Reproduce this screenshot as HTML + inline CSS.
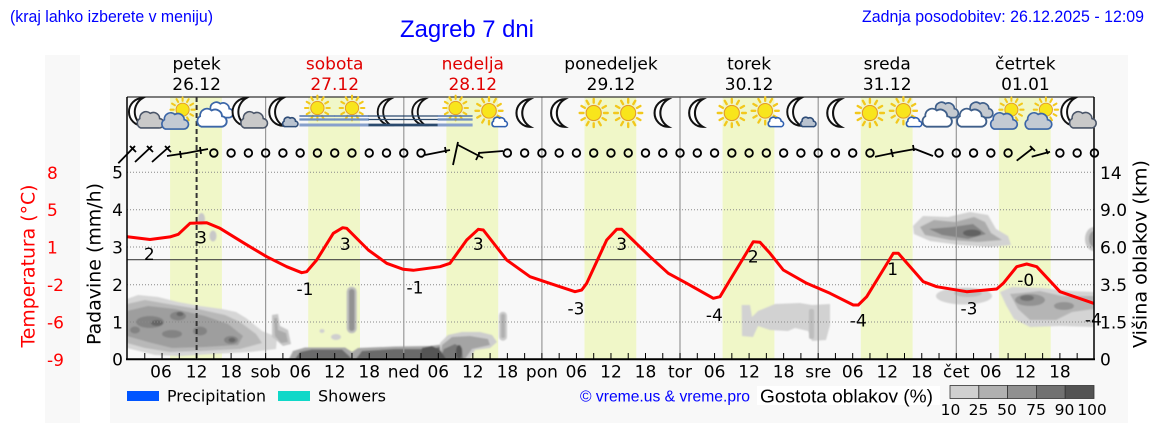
<!DOCTYPE html>
<html><head><meta charset="utf-8"><style>
html,body{margin:0;padding:0;background:#fff;}
svg{display:block;}
</style></head><body>
<svg width="1152" height="443" viewBox="0 0 1152 443" xmlns="http://www.w3.org/2000/svg">
<defs>
<path id="cl" d="M-8,8 A5,5 0 0 1 -9,-1 A6,6 0 0 1 1,-6 A6,6 0 0 1 10,-1 A4.5,4.5 0 0 1 9,8 Z"/>
<path id="mn" d="M4,-12 A12,12 0 0 0 4,12 A13.79,13.79 0 0 1 4,-12 Z"/>
<g id="sn"><path d="M9.5,0H13M8.23,4.75L11.26,6.5M4.75,8.23L6.5,11.26M0,9.5V13M-4.75,8.23L-6.5,11.26M-8.23,4.75L-11.26,6.5M-9.5,0H-13M-8.23,-4.75L-11.26,-6.5M-4.75,-8.23L-6.5,-11.26M0,-9.5V-13M4.75,-8.23L6.5,-11.26M8.23,-4.75L11.26,-6.5" stroke="#f2c81c" stroke-width="2.2" stroke-linecap="round" fill="none"/><circle r="7" fill="#f8e51c" stroke="#e39a2a" stroke-width="1"/></g>
<g id="moonCloud" transform="scale(1.1)"><use href="#mn" transform="translate(-6,-1) scale(1.05)" fill="#fff" stroke="#111" stroke-width="1.7"/><use href="#cl" transform="translate(4,6) scale(0.95)" fill="#c9c9c9" stroke="#4a5568" stroke-width="1.5"/></g>
<g id="moonSmall" transform="scale(1.1)"><use href="#mn" transform="translate(-4,-1) scale(1.05)" fill="#fff" stroke="#111" stroke-width="1.7"/><use href="#cl" transform="translate(6,8) scale(0.55)" fill="#b9c3d0" stroke="#2f4d78" stroke-width="2.6"/></g>
<g id="moon" transform="scale(1.1)"><use href="#mn" transform="translate(1,0) scale(1.05)" fill="#fff" stroke="#111" stroke-width="1.8"/></g>
<g id="sun" transform="scale(1.08)"><use href="#sn"/></g>
<g id="sunCloud" transform="scale(1.1)"><use href="#sn" transform="translate(3,-3) scale(0.85)"/><use href="#cl" transform="translate(-5,7) scale(0.95)" fill="#c3cad3" stroke="#3b66a8" stroke-width="1.6"/></g>
<g id="sunSmall" transform="scale(1.1)"><use href="#sn" transform="translate(-1,-2) scale(0.95)"/><use href="#cl" transform="translate(8,8) scale(0.55)" fill="#fff" stroke="#2f5fb0" stroke-width="2.6"/></g>
<g id="cloudsW" transform="scale(1.1)"><use href="#cl" transform="translate(5,-3) scale(0.9)" fill="#fff" stroke="#3b66a8" stroke-width="1.7"/><use href="#cl" transform="translate(-3,4) scale(1.05)" fill="#fff" stroke="#3b66a8" stroke-width="1.6"/></g>
<g id="cloudsG" transform="scale(1.1)"><use href="#cl" transform="translate(5,-3) scale(0.9)" fill="#c5cad0" stroke="#3f5f8a" stroke-width="1.7"/><use href="#cl" transform="translate(-3,4) scale(1.05)" fill="#fff" stroke="#3f5f8a" stroke-width="1.6"/></g>
<g id="sunFog"><use href="#sn" transform="translate(0,-5) scale(0.95)"/><path d="M-18,3H17" stroke="#4f73ac" stroke-width="1.6"/><path d="M-18,6.5H17" stroke="#6f8fc0" stroke-width="2.2"/><path d="M-18,12H17" stroke="#87a0cc" stroke-width="3"/></g>
<g id="moonFog"><use href="#mn" transform="translate(0,-1) scale(1.1)" fill="none" stroke="#111" stroke-width="1.7"/><path d="M-18,3H17" stroke="#2b4a6e" stroke-width="1.3"/><path d="M-18,6.5H17" stroke="#2b4a6e" stroke-width="1.3"/><path d="M-18,12H17" stroke="#2b4a6e" stroke-width="2.8"/></g>
<clipPath id="pc"><rect x="127" y="97" width="967" height="262"/></clipPath>
<filter id="bl" x="-10%" y="-10%" width="120%" height="120%"><feGaussianBlur stdDeviation="0.9"/></filter>
</defs>

<!-- panels -->
<rect x="45" y="55" width="35" height="368" fill="#f8f8f8"/>
<rect x="110" y="55" width="1018" height="368" fill="#f8f8f8"/>

<!-- daylight bands -->
<g fill="#f0f7c8">
<rect x="170.1" y="97" width="51.8" height="262"/>
<rect x="308.2" y="97" width="51.8" height="262"/>
<rect x="446.4" y="97" width="51.8" height="262"/>
<rect x="584.5" y="97" width="51.8" height="262"/>
<rect x="722.6" y="97" width="51.8" height="262"/>
<rect x="860.8" y="97" width="51.8" height="262"/>
<rect x="998.9" y="97" width="51.8" height="262"/>
</g>

<!-- cloud density blobs -->
<g clip-path="url(#pc)"><g filter="url(#bl)">
<path fill="#d6d6d6" d="M127,299 L138,295 L158,297 L178,302 L200,306 L222,309 L236,312 L246,318 L262,331 L277,337 L276,349 L250,352 L212,354 L180,356 L155,355 L135,350 L127,348 Z"/>
<path fill="#b8b8b8" d="M127,304 L145,300 L168,304 L198,309 L225,315 L240,322 L256,334 L262,343 L240,349 L200,351 L170,352 L145,348 L127,343 Z"/>
<path fill="#9e9e9e" d="M127,311 L148,306 L175,309 L205,316 L228,324 L243,336 L238,345 L205,347 L172,348 L148,342 L127,336 Z"/>
<g fill="#838383"><ellipse cx="150" cy="322" rx="14" ry="6"/><ellipse cx="178" cy="316" rx="8" ry="4.5"/><ellipse cx="200" cy="331" rx="7" ry="4.5"/><ellipse cx="231" cy="340" rx="7" ry="4"/><ellipse cx="172" cy="334" rx="10" ry="4"/><ellipse cx="135" cy="330" rx="5" ry="3.5"/></g>
<g fill="#666"><ellipse cx="157" cy="323" rx="6" ry="3"/><ellipse cx="180" cy="314" rx="3.5" ry="2.2"/><ellipse cx="232" cy="340" rx="3.5" ry="2.2"/></g>
<ellipse cx="201.5" cy="219" rx="3.5" ry="6" fill="#c8c8c8"/>
<ellipse cx="213" cy="236" rx="3.5" ry="5.5" fill="#c8c8c8"/>
<path fill="#c6c6c6" d="M272,315 L278,314 L280,326 L288,330 L291,344 L283,346 L276,340 L272,337 Z"/>
<path fill="#ababab" d="M274,318 L277,318 L278,330 L286,333 L288,342 L281,343 L275,336 Z"/>
<rect x="346.7" y="286.7" width="10" height="46.6" rx="5" fill="#bdbdbd"/>
<rect x="349" y="289" width="5.5" height="42" rx="2.75" fill="#929292"/>
<ellipse cx="322" cy="331" rx="2.5" ry="2" fill="#d0d0d0"/>
<ellipse cx="336" cy="337" rx="5" ry="3" fill="#cfcfcf"/>
<path fill="#a5a5a5" d="M289,359 L293,351 L305,347.5 L345,347.5 L352,352 L358,348 L395,346.5 L430,346 L445,344 L446,359 Z"/>
<path fill="#6a6a6a" d="M295,359 L300,352 L312,349.5 L342,349.5 L348,355 L352,359 Z M356,359 L362,351 L395,349 L428,349 L440,347 L442,359 Z"/>
<path fill="#cdcdcd" d="M440,359 L440,343 L448,335 L462,332 L480,332 L492,335 L497,342 L490,348 L475,350 L470,359 Z"/>
<path fill="#a4a4a4" d="M440,359 L442,345 L452,337 L470,336 L488,339 L490,345 L472,349 L465,359 Z"/>
<path fill="#777" d="M440,359 L444,349 L455,344 L462,348 L463,359 Z"/>
<path fill="#555" d="M420,359 L422,348 L432,346 L440,350 L446,359 Z"/>
<ellipse cx="459" cy="352" rx="3" ry="7" fill="#555"/>
<rect x="499" y="311.7" width="8" height="29" rx="4" fill="#cbcbcb"/>
<rect x="501" y="314" width="4" height="24" rx="2" fill="#b0b0b0"/>
<path fill="#d2d2d2" d="M741.7,305 L750,305 L752,317 L758,311 L775,304 L800,303 L812,305 L830,304 L830,325 L826,340 L812,341 L808,331 L795,328 L788,331 L770,330 L758,326 L753,337 L742,336 Z"/>
<rect x="809" y="309" width="5" height="30" rx="2" fill="#bdbdbd"/>
<path fill="#d2d2d2" d="M913,226 L923,216 L948,217 L970,212 L988,215 L996,229 L1008,236 L1011,245 L990,247 L960,245 L930,241 L914,234 Z"/>
<path fill="#ababab" d="M920,227 L934,220 L955,222 L974,217 L985,222 L991,233 L1002,240 L978,242 L950,240 L925,235 Z"/>
<path fill="#848484" d="M929,229 L952,227 L973,224 L986,234 L968,239 L942,235 Z"/>
<ellipse cx="972" cy="233" rx="9" ry="3.5" fill="#626262"/>
<ellipse cx="964" cy="296" rx="28" ry="8.5" fill="#d3d3d3"/>
<ellipse cx="968" cy="293" rx="14" ry="4" fill="#bdbdbd"/>
<path fill="#d4d4d4" d="M1000,292 L1012,287 L1042,288 L1070,291 L1094,292 L1094,327 L1060,326 L1030,327 L1014,319 L1006,305 Z"/>
<path fill="#b5b5b5" d="M1010,294 L1040,291 L1062,296 L1094,296 L1094,309 L1072,312 L1056,320 L1030,320 L1018,309 Z"/>
<g fill="#939393"><ellipse cx="1030" cy="300" rx="15" ry="6"/><ellipse cx="1064" cy="306" rx="10" ry="4"/></g>
<ellipse cx="1027" cy="298" rx="7" ry="3" fill="#727272"/>
<ellipse cx="1094" cy="239" rx="9" ry="12" fill="#c6c6c6"/>
<ellipse cx="1094" cy="239" rx="5" ry="8" fill="#9a9a9a"/>
</g></g>

<!-- grid -->
<g stroke="#888" stroke-width="1" stroke-dasharray="1 2">
<line x1="127" y1="172.3" x2="1094" y2="172.3"/>
<line x1="127" y1="209.7" x2="1094" y2="209.7"/>
<line x1="127" y1="247" x2="1094" y2="247"/>
<line x1="127" y1="284.7" x2="1094" y2="284.7"/>
<line x1="127" y1="322" x2="1094" y2="322"/>
</g>
<g stroke="#999" stroke-width="1.2">
<line x1="265.6" y1="97" x2="265.6" y2="359"/>
<line x1="403.8" y1="97" x2="403.8" y2="359"/>
<line x1="541.9" y1="97" x2="541.9" y2="359"/>
<line x1="680" y1="97" x2="680" y2="359"/>
<line x1="818.2" y1="97" x2="818.2" y2="359"/>
<line x1="956.3" y1="97" x2="956.3" y2="359"/>
</g>
<line x1="127" y1="259.7" x2="1094" y2="259.7" stroke="#444" stroke-width="1.2"/>
<line x1="196.6" y1="97" x2="196.6" y2="359" stroke="#333" stroke-width="2" stroke-dasharray="5 3"/>

<!-- temperature curve -->
<g clip-path="url(#pc)">
<path fill="none" stroke="#ff0000" stroke-width="3" stroke-linejoin="round" stroke-linecap="round" d="M127.3,236.7 L150,239.5 L170,236.9 L178.3,234.3 L190,223.3 L206.7,222.7 L220,228.3 L243.3,242.7 L266.7,256.7 L286.7,266.7 L301.7,272.7 L306.7,271.7 L316.7,260 L333.3,233.3 L342.7,227.7 L346.7,228.3 L368.3,250 L386.7,263.3 L403.3,269.3 L413.3,270.3 L440,266.7 L450,263.3 L466.7,240 L478.3,229.3 L483.3,230 L506.7,260 L530,276.7 L546.7,282.3 L575,291.7 L581.7,290 L586.7,283.3 L606.7,240 L616.7,229.3 L621.7,229.3 L650,256.7 L668.3,273.3 L686.7,283.3 L713.3,298.3 L720,296.7 L730,280 L753.3,241.7 L760,242.3 L770,253.3 L783.3,270 L806.7,283.3 L830,293.3 L853.3,305 L858.3,305 L866.7,296.7 L893.3,253.3 L898.3,253.3 L923.3,281.7 L936.7,286.7 L966.7,291.7 L996.7,289 L1003.3,283.3 L1016.7,266.7 L1026.7,264 L1036.7,266.7 L1060,291.7 L1094,303.5"/>
</g>

<!-- temperature value labels -->
<g font-family="'DejaVu Sans', sans-serif" font-size="17" fill="#000" text-anchor="middle">
<text x="149.3" y="260">2</text>
<text x="201.5" y="243.5">3</text>
<text x="305" y="295">-1</text>
<text x="345.3" y="250">3</text>
<text x="415" y="293.3">-1</text>
<text x="478.3" y="250">3</text>
<text x="576" y="314.3">-3</text>
<text x="621.7" y="250">3</text>
<text x="714.3" y="321">-4</text>
<text x="753.3" y="262.7">2</text>
<text x="892.7" y="275">1</text>
<text x="858.3" y="326.7">-4</text>
<text x="969" y="314.3">-3</text>
<text x="1025.7" y="286">-0</text>
<text x="1093.3" y="325.3">-4</text>
</g>

<!-- axes box -->
<line x1="127" y1="97" x2="1094" y2="97" stroke="#333" stroke-width="1.2"/>
<line x1="127" y1="97" x2="127" y2="360" stroke="#000" stroke-width="1.5"/>
<line x1="1094" y1="97" x2="1094" y2="360" stroke="#000" stroke-width="1.5"/>
<line x1="126" y1="359.3" x2="1095" y2="359.3" stroke="#000" stroke-width="2"/>
<line x1="144.27" y1="356" x2="1094" y2="356" stroke="#000" stroke-width="6" stroke-dasharray="1 16.2665"/>

<!-- weather icons -->
<g transform="translate(0,113)">
<use href="#moonCloud" x="144.8"/>
<use href="#sunCloud" x="179.3"/>
<use href="#cloudsW" x="213.8"/>
<use href="#moonCloud" x="248.4"/>
<use href="#moonSmall" x="282.9"/>
<use href="#sunFog" x="317.4"/>
<use href="#sunFog" x="352"/>
<use href="#moonFog" x="386.5"/>
<use href="#moonFog" x="421"/>
<use href="#sunFog" x="455.6"/>
<use href="#sunSmall" x="490.1"/>
<use href="#moon" x="524.6"/>
<use href="#moon" x="559.2"/>
<use href="#sun" x="593.7"/>
<use href="#sun" x="628.2"/>
<use href="#moon" x="662.7"/>
<use href="#moon" x="697.3"/>
<use href="#sun" x="731.8"/>
<use href="#sunSmall" x="766.3"/>
<use href="#moonSmall" x="800.9"/>
<use href="#moon" x="835.4"/>
<use href="#sun" x="869.9"/>
<use href="#sunSmall" x="904.5"/>
<use href="#cloudsG" x="939"/>
<use href="#cloudsG" x="973.5"/>
<use href="#sunCloud" x="1008.1"/>
<use href="#sunCloud" x="1042.6"/>
<use href="#moonCloud" x="1077.1"/>
</g>

<!-- wind -->
<g fill="none" stroke="#000" stroke-width="1.8">
<circle cx="213.83" cy="153" r="3.8"/><circle cx="231.1" cy="153" r="3.8"/><circle cx="248.37" cy="153" r="3.8"/><circle cx="265.63" cy="153" r="3.8"/><circle cx="282.9" cy="153" r="3.8"/><circle cx="300.17" cy="153" r="3.8"/><circle cx="317.43" cy="153" r="3.8"/><circle cx="334.7" cy="153" r="3.8"/><circle cx="351.96" cy="153" r="3.8"/><circle cx="369.23" cy="153" r="3.8"/><circle cx="386.5" cy="153" r="3.8"/><circle cx="403.76" cy="153" r="3.8"/><circle cx="421.03" cy="153" r="3.8"/>
<circle cx="507.36" cy="153" r="3.8"/><circle cx="524.63" cy="153" r="3.8"/><circle cx="541.9" cy="153" r="3.8"/><circle cx="559.16" cy="153" r="3.8"/><circle cx="576.43" cy="153" r="3.8"/><circle cx="593.7" cy="153" r="3.8"/><circle cx="610.96" cy="153" r="3.8"/><circle cx="628.23" cy="153" r="3.8"/><circle cx="645.5" cy="153" r="3.8"/><circle cx="662.76" cy="153" r="3.8"/><circle cx="680.03" cy="153" r="3.8"/><circle cx="697.29" cy="153" r="3.8"/><circle cx="714.56" cy="153" r="3.8"/><circle cx="731.83" cy="153" r="3.8"/><circle cx="749.09" cy="153" r="3.8"/><circle cx="766.36" cy="153" r="3.8"/><circle cx="783.63" cy="153" r="3.8"/><circle cx="800.89" cy="153" r="3.8"/><circle cx="818.16" cy="153" r="3.8"/><circle cx="835.43" cy="153" r="3.8"/><circle cx="852.69" cy="153" r="3.8"/><circle cx="869.96" cy="153" r="3.8"/>
<circle cx="939.03" cy="153" r="3.8"/><circle cx="956.29" cy="153" r="3.8"/><circle cx="973.56" cy="153" r="3.8"/><circle cx="990.83" cy="153" r="3.8"/><circle cx="1008.09" cy="153" r="3.8"/>
<circle cx="1059.89" cy="153" r="3.8"/><circle cx="1077.16" cy="153" r="3.8"/><circle cx="1094.43" cy="153" r="3.8"/>
<path d="M118.3,163.3 L135,146 M130,146 L136,152 M135,162 L152,146 M147,146 L153,152 M152,162 L170,146 M165,146 L171,152 M167,156 L187,153 M180,151 L181,158 M187,153 L208,149 M200,147 L201,154"/>
<path d="M425,155 L450,150 M445,147 L446,153 M453,165 L458,142 M458,145 L483,158 M480,152 L476,160 M478,153 L503,151"/>
<path d="M875,156.7 L893,153 M891,149 L893,157 M893,153 L915,149 M913,145 L914,151 M915,149 L933,156"/>
<path d="M1016.7,160.7 L1033,148 M1030,146 L1035,151 M1031.7,156.7 L1050,151.7 M1046,149 L1048,154"/>
</g>

<!-- top texts -->
<g font-family="'Liberation Sans', Arial, sans-serif" fill="#0000ff">
<text x="10" y="22" font-size="17" textLength="203" lengthAdjust="spacingAndGlyphs">(kraj lahko izberete v meniju)</text>
<text x="400" y="37" font-size="24" textLength="134" lengthAdjust="spacingAndGlyphs">Zagreb 7 dni</text>
<text x="862" y="22" font-size="17" textLength="282" lengthAdjust="spacingAndGlyphs">Zadnja posodobitev: 26.12.2025 - 12:09</text>
</g>

<!-- day headers -->
<g font-family="'DejaVu Sans', sans-serif" font-size="17" text-anchor="middle">
<text x="196.6" y="69.5" fill="#000">petek</text><text x="196.6" y="90" fill="#000">26.12</text>
<text x="334.7" y="69.5" fill="#e00000">sobota</text><text x="334.7" y="90" fill="#e00000">27.12</text>
<text x="472.8" y="69.5" fill="#e00000">nedelja</text><text x="472.8" y="90" fill="#e00000">28.12</text>
<text x="611" y="69.5" fill="#000">ponedeljek</text><text x="611" y="90" fill="#000">29.12</text>
<text x="749.1" y="69.5" fill="#000">torek</text><text x="749.1" y="90" fill="#000">30.12</text>
<text x="887.2" y="69.5" fill="#000">sreda</text><text x="887.2" y="90" fill="#000">31.12</text>
<text x="1025.4" y="69.5" fill="#000">četrtek</text><text x="1025.4" y="90" fill="#000">01.01</text>
</g>

<!-- left temp axis -->
<g font-family="'DejaVu Sans', sans-serif" font-size="17" fill="#ff0000">
<text x="47" y="179">8</text>
<text x="47" y="216">5</text>
<text x="47" y="253.5">1</text>
<text x="47" y="291">-2</text>
<text x="47" y="328.5">-6</text>
<text x="47" y="366">-9</text>
</g>
<text transform="translate(28,266) rotate(-90)" x="0" y="6.5" font-family="'DejaVu Sans', sans-serif" font-size="19" fill="#ff0000" text-anchor="middle" textLength="163" lengthAdjust="spacingAndGlyphs">Temperatura (°C)</text>
<text transform="translate(94,264) rotate(-90)" x="0" y="6.5" font-family="'DejaVu Sans', sans-serif" font-size="19" fill="#000" text-anchor="middle" textLength="162" lengthAdjust="spacingAndGlyphs">Padavine (mm/h)</text>
<text transform="translate(1140,254) rotate(-90)" x="0" y="6.5" font-family="'DejaVu Sans', sans-serif" font-size="19" fill="#000" text-anchor="middle" textLength="188" lengthAdjust="spacingAndGlyphs">Višina oblakov (km)</text>

<!-- precip axis labels -->
<g font-family="'DejaVu Sans', sans-serif" font-size="17" fill="#000" text-anchor="end">
<text x="123" y="178.5">5</text>
<text x="123" y="216">4</text>
<text x="123" y="253.3">3</text>
<text x="123" y="291">2</text>
<text x="123" y="328.3">1</text>
<text x="123" y="365.6">0</text>
</g>
<!-- right axis labels -->
<g font-family="'DejaVu Sans', sans-serif" font-size="17" fill="#000">
<text x="1100" y="179">14</text>
<text x="1100" y="216">9.0</text>
<text x="1100" y="253.3">6.0</text>
<text x="1100" y="291">3.5</text>
<text x="1100" y="328.3">1.5</text>
<text x="1100" y="365.6">0</text>
</g>

<!-- x axis labels -->
<g font-family="'DejaVu Sans', sans-serif" font-size="17" fill="#000" text-anchor="middle">
<text x="161" y="377.5">06</text><text x="196.6" y="377.5">12</text><text x="231.1" y="377.5">18</text><text x="265.6" y="377.5">sob</text>
<text x="300.2" y="377.5">06</text><text x="334.7" y="377.5">12</text><text x="369.2" y="377.5">18</text><text x="403.8" y="377.5">ned</text>
<text x="438.3" y="377.5">06</text><text x="472.8" y="377.5">12</text><text x="507.4" y="377.5">18</text><text x="541.9" y="377.5">pon</text>
<text x="576.4" y="377.5">06</text><text x="611" y="377.5">12</text><text x="645.5" y="377.5">18</text><text x="680" y="377.5">tor</text>
<text x="714.6" y="377.5">06</text><text x="749.1" y="377.5">12</text><text x="783.6" y="377.5">18</text><text x="818.2" y="377.5">sre</text>
<text x="852.7" y="377.5">06</text><text x="887.2" y="377.5">12</text><text x="921.8" y="377.5">18</text><text x="956.3" y="377.5">čet</text>
<text x="990.8" y="377.5">06</text><text x="1025.4" y="377.5">12</text><text x="1059.9" y="377.5">18</text>
</g>

<!-- legend -->
<rect x="127" y="391" width="32" height="10" fill="#0055ff"/>
<text x="167" y="401.7" font-family="'DejaVu Sans', sans-serif" font-size="16" fill="#000" textLength="99" lengthAdjust="spacingAndGlyphs">Precipitation</text>
<rect x="278" y="391" width="32" height="10" fill="#10d8c8"/>
<text x="318" y="401.7" font-family="'DejaVu Sans', sans-serif" font-size="16" fill="#000" textLength="68" lengthAdjust="spacingAndGlyphs">Showers</text>
<text x="580" y="401.7" font-family="'Liberation Sans', Arial, sans-serif" font-size="16" fill="#0000ff" textLength="170" lengthAdjust="spacingAndGlyphs">© vreme.us &amp; vreme.pro</text>
<rect x="757" y="386" width="183" height="19" fill="#fff"/>
<text x="760" y="402.3" font-family="'Liberation Sans', Arial, sans-serif" font-size="18" fill="#000" textLength="173" lengthAdjust="spacingAndGlyphs">Gostota oblakov (%)</text>
<g stroke="#333" stroke-width="0.8">
<rect x="950" y="385.5" width="28.8" height="13" fill="#d0d0d0"/>
<rect x="978.8" y="385.5" width="28.8" height="13" fill="#b0b0b0"/>
<rect x="1007.6" y="385.5" width="28.8" height="13" fill="#909090"/>
<rect x="1036.4" y="385.5" width="28.8" height="13" fill="#717171"/>
<rect x="1065.2" y="385.5" width="28.8" height="13" fill="#535353"/>
</g>
<g font-family="'DejaVu Sans', sans-serif" font-size="15.5" fill="#000" text-anchor="middle">
<text x="950.5" y="415">10</text>
<text x="978.5" y="415">25</text>
<text x="1007" y="415">50</text>
<text x="1036" y="415">75</text>
<text x="1064.5" y="415">90</text>
<text x="1092" y="415">100</text>
</g>
</svg>
</body></html>
